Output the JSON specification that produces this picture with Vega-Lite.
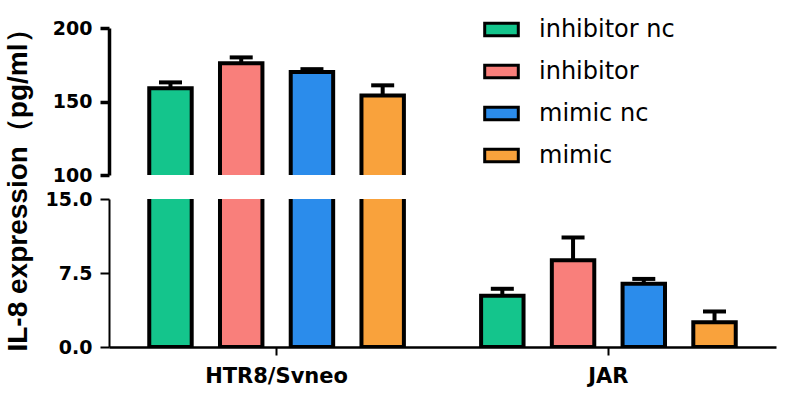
{
  "$schema": "https://vega.github.io/schema/vega-lite/v6.json",
  "background": "white",
  "padding": {"left": 3, "top": 14, "right": 5, "bottom": 5},
  "spacing": 24,
  "bounds": "flush",
  "datasets": {
    "il8": [
      {"cell": "HTR8/Svneo", "group": "inhibitor nc", "mean": 159, "upper": 163},
      {"cell": "HTR8/Svneo", "group": "inhibitor", "mean": 176, "upper": 180},
      {"cell": "HTR8/Svneo", "group": "mimic nc", "mean": 170, "upper": 172},
      {"cell": "HTR8/Svneo", "group": "mimic", "mean": 154, "upper": 161},
      {"cell": "JAR", "group": "inhibitor nc", "mean": 5.2, "upper": 5.9},
      {"cell": "JAR", "group": "inhibitor", "mean": 8.8, "upper": 11.1},
      {"cell": "JAR", "group": "mimic nc", "mean": 6.4, "upper": 6.9},
      {"cell": "JAR", "group": "mimic", "mean": 2.5, "upper": 3.6}
    ]
  },
  "data": {"name": "il8"},
  "vconcat": [
    {
      "width": 667,
      "height": 147,
      "encoding": {
        "x": {
          "field": "cell",
          "type": "nominal",
          "scale": {"domain": ["HTR8/Svneo", "JAR"], "paddingInner": 0.19, "paddingOuter": 0.1},
          "axis": null
        },
        "xOffset": {
          "field": "group",
          "type": "nominal",
          "scale": {"domain": ["inhibitor nc", "inhibitor", "mimic nc", "mimic"], "paddingInner": 0.4, "paddingOuter": 0.1}
        }
      },
      "layer": [
        {
          "mark": {"type": "rule", "clip": true, "strokeWidth": 4, "color": "black"},
          "encoding": {
            "y": {
              "field": "mean",
              "type": "quantitative",
              "scale": {"domain": [100, 200], "nice": false},
              "axis": {"values": [100, 150, 200], "title": null, "domainWidth": 3.5, "tickWidth": 3.5}
            },
            "y2": {"field": "upper"}
          }
        },
        {
          "mark": {"type": "tick", "clip": true, "size": 23, "thickness": 4, "color": "black", "opacity": 1},
          "encoding": {"y": {"field": "upper", "type": "quantitative"}}
        },
        {
          "mark": {"type": "bar", "clip": true, "stroke": "black", "strokeWidth": 4},
          "encoding": {
            "y": {"field": "mean", "type": "quantitative"},
            "y2": {"datum": 80},
            "color": {
              "field": "group",
              "type": "nominal",
              "scale": {
                "domain": ["inhibitor nc", "inhibitor", "mimic nc", "mimic"],
                "range": ["#14C58C", "#F97F7B", "#2B8CEB", "#F9A23C"]
              },
              "legend": {
                "orient": "none",
                "legendX": 377,
                "legendY": -14,
                "title": null,
                "symbolType": "M-1.2,-0.45H1.2V0.45H-1.2Z",
                "symbolSize": 784,
                "symbolStrokeColor": "black",
                "symbolStrokeWidth": 3,
                "labelFont": "DejaVu Sans",
                "labelFontSize": 24,
                "labelColor": "black",
                "labelOffset": 22,
                "rowPadding": 14
              }
            }
          }
        }
      ]
    },
    {
      "width": 667,
      "height": 148,
      "encoding": {
        "x": {
          "field": "cell",
          "type": "nominal",
          "scale": {"domain": ["HTR8/Svneo", "JAR"], "paddingInner": 0.19, "paddingOuter": 0.1},
          "axis": {"title": null, "labelAngle": 0, "tickWidth": 2, "tickSize": 8, "labelPadding": 10, "labelFontSize": 21, "domainWidth": 2.5}
        },
        "xOffset": {
          "field": "group",
          "type": "nominal",
          "scale": {"domain": ["inhibitor nc", "inhibitor", "mimic nc", "mimic"], "paddingInner": 0.4, "paddingOuter": 0.1}
        }
      },
      "layer": [
        {
          "mark": {"type": "rule", "clip": true, "strokeWidth": 4, "color": "black"},
          "encoding": {
            "y": {
              "field": "mean",
              "type": "quantitative",
              "scale": {"domain": [0, 15], "nice": false},
              "axis": {
                "values": [0, 7.5, 15],
                "format": ".1f",
                "title": "IL-8 expression（pg/ml）",
                "titleFont": "Liberation Sans",
                "titleFontSize": 28,
                "titleY": -16,
                "titleX": -77,
                "domainWidth": 2,
                "tickWidth": 2
              }
            },
            "y2": {"field": "upper"}
          }
        },
        {
          "mark": {"type": "tick", "clip": true, "size": 23, "thickness": 4, "color": "black", "opacity": 1},
          "encoding": {"y": {"field": "upper", "type": "quantitative"}}
        },
        {
          "mark": {"type": "bar", "clip": true, "stroke": "black", "strokeWidth": 4},
          "encoding": {
            "y": {"field": "mean", "type": "quantitative"},
            "y2": {"datum": 0},
            "color": {"field": "group", "type": "nominal", "legend": null}
          }
        }
      ]
    }
  ],
  "config": {
    "view": {"stroke": null},
    "font": "DejaVu Sans",
    "axis": {
      "grid": false,
      "domainColor": "black",
      "domainWidth": 3,
      "tickColor": "black",
      "tickWidth": 3,
      "tickSize": 9,
      "labelPadding": 8,
      "labelFont": "DejaVu Sans",
      "labelFontWeight": "bold",
      "labelFontSize": 19,
      "labelColor": "black",
      "titleFont": "DejaVu Sans",
      "titleFontWeight": "bold",
      "titleFontSize": 20,
      "titleColor": "black"
    }
  }
}
